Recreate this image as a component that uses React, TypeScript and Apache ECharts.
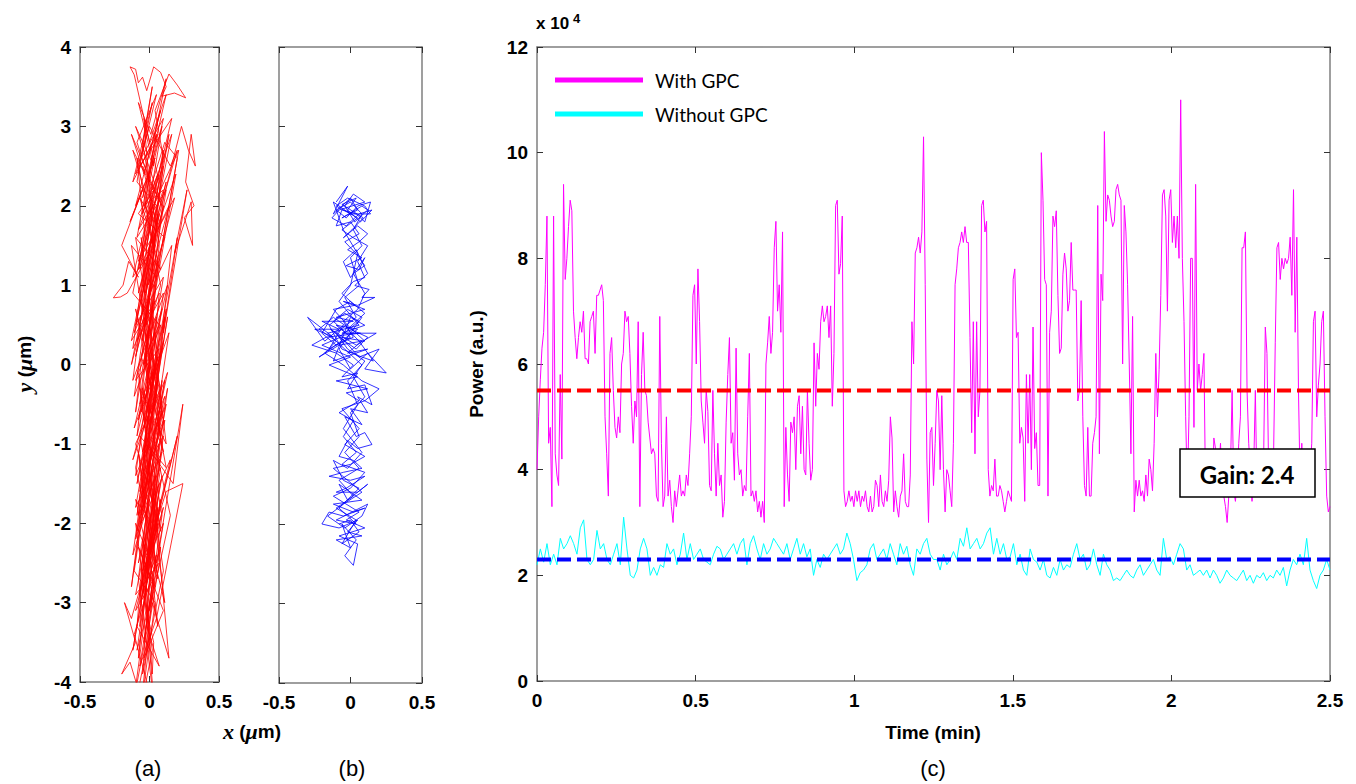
import React, { useEffect, useRef } from "react";
import * as echarts from "echarts";

// ---------- data ----------
// (a) trajectory x, y in µm (red)
const RED_XY: number[][] = [
  [-0.06,-4.3],[0.02,-2.9],[-0.09,-3.6],[0.06,-1.8],[-0.03,-2.7],[0.11,-0.7],[-0.07,-1.6],[0.08,0.5],[-0.11,-0.4],[0.03,1.3],
  [-0.05,0.3],[0.12,2.2],[-0.09,1.6],[0.05,2.9],[-0.12,2.3],[0.02,3.3],[-0.07,2.5],[0.16,3.1],[0.0,1.9],[0.21,2.7],
  [0.05,1.1],[-0.13,1.5],[0.03,-0.2],[-0.1,0.7],[0.1,-1.1],[-0.05,-0.3],[0.15,-1.9],[0.0,-3.1],[0.08,-2.3],[-0.11,-3.4],
  [0.04,-4.4],[-0.02,-3.2],[0.07,-1.5],[-0.08,-2.5],[0.12,-0.5],[-0.04,-1.2],[0.07,0.9],[-0.12,0.2],[0.02,2.0],[-0.08,1.2],
  [0.09,3.0],[-0.05,2.1],[0.12,3.4],[0.0,2.8],[-0.11,3.65],[-0.14,3.75],[-0.1,3.72],[-0.08,3.55],[-0.05,3.62],[-0.02,3.45],
  [0.03,3.75],[0.08,3.68],[0.12,3.5],[0.09,3.38],[0.18,3.42],[0.26,3.36],[0.2,3.52],[0.14,3.66],[0.04,3.2],[0.1,2.6],
  [-0.02,1.5],[0.14,2.9],[-0.06,0.8],[0.1,2.0],[-0.13,0.0],[0.05,1.2],[-0.09,-0.9],[0.11,0.6],[-0.04,-1.8],[0.13,-0.3],
  [-0.07,-2.9],[0.09,-1.4],[-0.12,-3.6],[0.02,-2.2],[-0.05,-3.9],[0.1,-2.6],[-0.03,-1.0],[0.17,-1.5],[0.24,-0.5],[0.05,-2.5],
  [-0.1,-1.3],[0.06,0.1],[-0.08,-0.7],[0.13,1.0],[-0.02,0.3],[0.19,2.4],[0.03,1.6],[0.23,3.0],[0.28,2.7],[0.33,2.5],
  [0.3,2.9],[0.26,2.3],[0.32,2.0],[0.25,1.85],[0.31,1.5],[0.3,2.05],[0.18,1.4],[0.27,2.2],[0.1,0.4],[0.2,1.6],
  [-0.04,-0.8],[0.12,0.7],[-0.09,-1.9],[0.06,-0.2],[-0.13,-2.8],[0.01,-1.1],[-0.07,-3.3],[0.08,-1.7],[-0.11,-4.2],[0.02,-3.0],
  [0.14,-3.7],[0.05,-2.0],[0.2,-0.9],[-0.01,-2.4],[0.15,-1.2],[-0.06,-2.0],[0.09,-0.6],[-0.1,-1.4],[0.05,0.6],[-0.12,-0.2],
  [0.0,1.4],[-0.16,0.9],[-0.21,0.85],[-0.26,0.84],[-0.19,1.0],[-0.15,1.3],[-0.08,1.1],[-0.2,1.5],[-0.05,2.2],[-0.14,1.8],
  [0.04,2.6],[-0.1,2.0],[0.08,3.2],[-0.04,2.4],[-0.13,2.9],[0.06,2.1],[-0.08,1.7],[0.1,2.5],[-0.03,0.9],[0.07,1.9],
  [-0.11,0.4],[0.03,1.0],[-0.07,-0.5],[0.09,0.2],[-0.12,-1.2],[0.04,-0.4],[-0.09,-2.1],[0.07,-1.0],[-0.05,-2.9],[0.1,-1.8],
  [-0.13,-3.2],[-0.18,-3.0],[-0.1,-3.5],[-0.2,-3.9],[-0.14,-3.75],[-0.08,-4.1],[0.0,-3.4],[-0.06,-2.6],[0.04,-1.4],[-0.1,-2.2],
  [0.11,-0.2],[-0.02,-1.5],[0.14,0.4],[-0.06,-0.6],[0.1,1.1],[-0.1,0.5],[0.05,1.7],[-0.08,0.9],[0.12,2.3],[-0.01,1.4],
  [0.16,2.9],[0.02,2.2],[-0.09,2.8],[0.05,3.4],[-0.06,2.6],[0.1,3.1],[0.0,2.3],[-0.12,2.7],[0.03,1.8],[-0.07,2.1],
  [0.08,1.2],[-0.1,1.6],[0.02,0.3],[-0.06,0.8],[0.09,-0.6],[-0.03,0.1],[0.12,-1.3],[-0.07,-0.9],[0.06,-2.1],[-0.1,-1.7],
  [0.04,-2.8],[-0.08,-2.3],[0.1,-3.1],[-0.04,-3.7],[0.07,-2.5],[-0.1,-2.9],[0.01,-1.9],[0.09,-1.1],[-0.05,-1.6],[0.13,-0.1],
  [-0.02,-0.8],[0.1,0.9],[-0.09,0.3],[0.04,1.5],[-0.12,1.1],[0.06,2.4],[-0.05,1.9],[0.11,2.8],[0.2,2.6],[0.07,1.3],
  [-0.04,0.0],[0.09,0.7],[-0.11,-0.8],[0.03,-0.1],[-0.06,-1.4],[0.1,-0.9],[-0.02,-2.4],[0.12,-1.6],[0.24,-1.5],[0.05,-3.2],
  [-0.07,-3.8],[0.03,-2.7],[-0.1,-3.1],[0.06,-2.0],[-0.03,-2.6],[0.08,-1.3],[-0.08,-1.9],[0.11,-0.4],[-0.05,-1.1],[0.07,0.2],
  [-0.1,-0.2],[0.04,0.8],[-0.13,0.3],[0.02,1.6],[-0.08,1.3],[0.1,2.2],[-0.04,2.0],[0.06,2.9],[-0.1,2.4],[0.0,3.0],
  [0.15,2.5],[0.2,2.7],[0.1,2.1],[0.03,1.1],[-0.06,0.6],[0.08,-0.3],[-0.1,-1.0],[0.05,-1.9],[-0.06,-2.8],[0.03,-3.5],
  [0.02,-3.9],[-0.05,-2.2],[0.06,-3.3],[-0.08,-1.1],[0.04,-2.6],[-0.03,0.4],[0.08,-0.9],[-0.06,1.6],[0.05,0.2],[-0.09,2.6],
  [0.03,1.5],[-0.04,3.1],[0.07,2.3],[-0.07,1.2],[0.1,2.7],[-0.02,0.5],[0.06,1.9],[-0.1,-0.6],[0.02,0.7],[-0.06,-1.9],
  [0.09,-0.2],[-0.03,-2.9],[0.05,-1.6],[-0.08,-3.7],[0.01,-2.3],[0.11,-3.0],[-0.02,-1.2],[0.08,-2.1],[-0.07,-0.3],[0.12,-1.0],
  [0.0,0.8],[-0.1,0.1],[0.06,1.3],[-0.04,-0.7],[0.1,0.3],[-0.09,-1.5],[0.03,-0.5],[-0.12,-2.4],[0.0,-1.7],[-0.07,-3.0],
  [0.05,-2.4],[-0.04,-3.5],[0.09,-1.9],[-0.01,-0.9],[0.13,0.6],[0.04,-0.4],[0.16,1.5],[0.0,0.9],[0.18,2.1],[0.06,1.7],
  [-0.05,2.5],[0.09,2.0],[-0.1,3.0],[0.03,2.5],[-0.08,3.3],[0.01,2.9],[0.12,3.6],[0.05,3.0],[-0.03,2.0],[0.08,1.0],
  [-0.06,0.1],[0.1,-0.7],[-0.04,-1.4],[0.06,-2.7],[-0.1,-2.0],[0.02,-3.6],[-0.06,-4.3],[0.04,-3.0],[-0.11,-2.6],[0.0,-1.3],
  [-0.08,-0.1],[0.07,0.5],[-0.12,0.9],[0.03,2.2],[-0.08,1.9],[0.11,1.6],[-0.01,1.0],[0.14,2.0],[-0.05,1.3],[0.02,-0.6],
  [-0.1,-1.8],[0.07,-1.2],[-0.05,-2.6],[0.1,-2.0],[-0.02,-3.3],[0.07,-3.8],[-0.09,-3.3],[-0.03,-2.0],[0.09,-0.5],[-0.06,0.9],
  [0.05,2.0],[-0.09,2.3],[0.02,3.5],[-0.05,2.8],[0.07,1.5],[-0.03,0.0],[0.04,-1.0],[-0.08,-2.7],[0.0,-3.8],[0.05,-4.5]
];

// (b) trajectory x, y in µm (blue)
const BLUE_XY: number[][] = [
  [-0.1,2.05],[-0.02,2.25],[-0.12,1.9],[0.0,2.1],[0.05,1.95],[-0.06,1.85],[0.08,2.0],[0.12,1.95],[0.03,1.8],[-0.04,2.0],
  [0.02,2.15],[0.1,2.05],[-0.08,1.95],[-0.13,1.85],[-0.03,1.75],[0.06,1.9],[0.15,1.95],[0.07,1.8],[-0.02,1.95],[0.04,2.1],
  [-0.06,2.02],[0.09,1.85],[0.01,1.7],[-0.05,1.6],[0.05,1.75],[0.12,1.65],[0.06,1.55],[-0.02,1.45],[0.08,1.35],[-0.03,1.25],
  [0.06,1.2],[0.1,1.35],[0.0,1.1],[-0.05,1.3],[0.04,1.45],[0.12,1.15],[0.03,1.0],[0.13,0.95],[0.08,0.85],[0.17,0.85],
  [0.05,0.75],[-0.05,0.8],[0.1,0.7],[-0.1,0.6],[0.02,0.55],[-0.2,0.55],[-0.08,0.45],[-0.25,0.45],[-0.12,0.35],[-0.3,0.6],
  [-0.18,0.3],[-0.05,0.5],[-0.15,0.2],[0.0,0.35],[-0.1,0.5],[0.05,0.45],[-0.22,0.1],[-0.08,0.25],[0.08,0.3],[-0.02,0.15],
  [0.12,0.2],[-0.12,0.05],[0.0,0.6],[0.1,0.5],[-0.06,0.4],[0.18,0.4],[0.04,0.25],[-0.14,0.45],[-0.04,0.3],[0.06,0.1],
  [0.2,0.2],[0.1,-0.05],[0.25,-0.1],[0.12,0.15],[0.0,-0.05],[-0.08,0.2],[0.08,0.6],[-0.02,0.7],[-0.12,0.55],[-0.03,0.4],
  [0.07,0.4],[-0.17,0.35],[-0.27,0.25],[-0.1,0.15],[0.02,0.0],[-0.06,-0.15],[0.05,-0.1],[-0.02,-0.3],[0.1,-0.25],[0.15,-0.5],
  [0.05,-0.4],[0.12,-0.6],[0.0,-0.55],[0.08,-0.75],[-0.04,-0.65],[0.04,-0.9],[0.1,-0.85],[0.15,-1.0],[0.05,-1.05],[-0.02,-0.95],
  [-0.08,-1.15],[0.02,-1.2],[0.08,-1.3],[-0.05,-1.35],[-0.15,-1.4],[0.0,-1.45],[0.1,-1.4],[-0.03,-1.55],[-0.1,-1.6],[0.05,-1.6],
  [0.12,-1.5],[-0.02,-1.7],[-0.08,-1.5],[0.08,-1.7],[-0.12,-1.75],[0.02,-1.85],[0.1,-1.8],[-0.05,-1.9],[-0.15,-1.85],[-0.2,-2.0],
  [-0.08,-2.05],[0.05,-1.95],[-0.02,-2.1],[0.08,-2.15],[-0.1,-2.2],[0.0,-2.3],[-0.06,-2.0],[0.04,-2.2],[-0.04,-2.4],[0.02,-2.52],
  [0.05,-2.25],[-0.08,-2.15],[0.1,-2.05],[-0.03,-1.95],[0.06,-1.85],[-0.12,-1.65],[0.0,-1.55],[0.1,-1.35],[-0.06,-1.25],[0.04,-1.1],
  [-0.05,-0.9],[0.02,-0.7],[-0.08,-0.6],[0.06,-0.45],[-0.03,-0.35],[0.12,-0.3],[-0.1,-0.2],[0.05,-0.15],[-0.15,0.0],[0.0,0.1],
  [-0.2,0.25],[-0.07,0.35],[0.1,0.3],[-0.02,0.5],[-0.12,0.7],[0.03,0.75],[-0.06,0.9],[0.02,1.05],[0.1,1.1],[0.05,1.3],
  [0.12,1.5],[0.02,1.6],[-0.06,1.7],[0.05,1.85],[-0.1,2.0],[-0.02,2.1],[0.1,2.0],[0.14,1.9],[0.0,1.9],[-0.12,2.05],
  [-0.05,1.7],[0.05,1.4],[0.0,1.0],[-0.08,0.8],[0.06,0.5],[-0.16,0.4],[-0.04,0.2],[0.08,0.0],[-0.02,-0.2],[0.05,-0.5],
  [-0.05,-0.8],[0.08,-1.1],[-0.02,-1.3],[-0.12,-1.2],[-0.05,-1.45],[0.06,-1.55],[-0.08,-1.8],[0.04,-2.0],[-0.1,-1.95],[0.12,-1.75],
  [0.08,-1.9],[-0.04,-2.05],[-0.16,-1.9],[-0.05,-1.75],[0.08,-1.6],[-0.02,-1.45],[-0.12,-1.3],[0.0,-1.25],[0.1,-1.15],[-0.04,-1.0],
  [0.06,-0.8],[-0.06,-0.55],[0.1,-0.45],[0.2,-0.3],[0.08,-0.2],[-0.05,0.0],[-0.18,0.15],[-0.1,0.3],[-0.22,0.45],[-0.12,0.6],
  [0.0,0.45],[0.12,0.35],[0.04,0.2],[-0.08,0.35],[0.06,0.55],[-0.04,0.65],[-0.15,0.5],[-0.06,0.2],[0.08,0.1],[0.16,0.05],
  [0.06,0.3],[-0.02,0.45],[0.1,0.65],[0.0,0.8],[-0.1,0.7],[-0.2,0.4],[-0.1,0.25],[0.02,0.35],[-0.05,0.55],[0.05,0.7],
  [0.1,0.9],[0.02,1.15],[0.1,1.25],[0.04,1.4],[-0.04,1.55],[0.06,1.65],[0.0,1.8],[-0.1,1.75],[-0.06,1.95],[0.04,1.9],
  [0.1,1.8],[0.14,2.05],[0.05,2.0],[-0.03,1.85],[-0.1,1.95],[0.0,2.05],[0.08,1.9],[0.02,1.7],[0.08,1.5],[0.0,1.35],
  [0.06,1.0],[-0.04,0.85],[0.04,0.6],[-0.1,0.4],[-0.02,0.2],[0.1,0.05],[0.02,-0.15],[0.1,-0.4],[0.0,-0.6],[0.06,-0.9],
  [-0.04,-1.1],[0.06,-1.3],[-0.08,-1.45],[0.02,-1.65],[-0.1,-1.8],[0.04,-1.95],[-0.06,-2.25],[0.06,-2.1],[0.0,-1.95],[-0.08,-2.0]
];

// (c) power (x 10^4 a.u.), evenly sampled over 0 .. 2.5 min
const WITH_GPC: number[] = [
  4.0,5.0,5.7,6.3,6.6,7.5,8.8,4.5,4.8,3.3, 8.8,4.3,3.9,3.7,5.8,4.2,9.4,7.6,8.0,8.6,
  9.1,8.9,7.0,6.5,6.1,6.5,6.8,6.6,7.0,6.1, 6.1,6.0,6.8,6.9,7.0,6.2,7.3,7.3,7.4,7.5,
  7.2,5.0,4.3,3.5,6.2,6.5,5.5,4.8,4.6,5.0, 4.7,6.0,6.2,7.0,6.8,6.9,6.2,5.2,4.5,5.3,
  5.0,6.8,3.3,5.8,6.6,5.5,5.4,4.9,4.6,4.3, 4.4,4.3,3.5,3.4,6.9,4.5,3.3,3.5,5.0,3.5,
  3.8,3.3,3.0,3.6,3.3,3.6,3.9,3.5,3.6,3.5, 3.9,3.7,4.3,5.0,7.3,7.5,6.0,7.8,6.8,5.3,
  4.9,4.5,5.5,5.1,3.7,3.6,5.5,4.3,3.5,4.5, 3.7,3.9,3.1,3.4,4.9,5.8,6.5,4.5,4.7,3.8,
  6.3,4.3,3.9,4.0,3.5,3.7,3.6,5.0,6.2,3.5, 3.6,3.4,3.6,3.2,3.4,3.1,3.4,3.0,6.0,6.4,
  6.9,6.2,6.6,8.2,8.7,7.0,7.5,6.6,8.5,3.3, 4.8,3.9,3.4,4.9,4.7,5.0,4.0,5.2,5.4,4.3,
  5.2,4.0,3.9,5.5,4.5,3.8,4.0,6.4,5.2,6.2, 5.9,6.8,7.1,6.8,6.9,7.1,6.5,7.1,5.2,6.2,
  9.0,9.1,7.7,7.9,8.8,3.6,3.3,3.4,3.6,3.4, 3.5,3.3,3.6,3.4,3.6,3.3,3.5,3.4,3.6,3.3,
  3.2,3.5,3.2,3.3,3.8,3.7,3.3,3.9,3.4,3.3, 3.6,3.4,3.8,5.0,4.6,3.2,3.6,3.3,3.1,3.5,
  3.6,4.3,3.4,3.3,3.3,3.9,6.8,6.0,8.1,8.2, 8.4,8.1,8.5,10.3,7.5,4.2,3.0,4.7,4.8,3.7,
  4.5,5.5,5.3,4.0,5.4,4.0,3.2,4.0,3.9,3.6, 3.3,4.5,7.5,7.8,8.2,8.3,8.5,8.3,8.6,8.3,
  8.3,6.5,4.7,6.8,4.3,6.8,5.0,5.5,9.0,9.1, 8.5,8.7,4.0,3.5,3.7,3.6,4.2,3.5,3.5,3.7,
  3.6,3.4,3.2,3.4,3.6,3.5,3.4,7.6,7.8,6.5, 6.6,4.5,4.8,4.6,3.4,5.8,4.5,5.8,4.0,6.7,
  4.4,4.7,3.7,3.7,10.0,9.1,7.6,7.5,3.5,6.6, 7.0,8.8,8.6,8.9,7.3,6.2,6.3,7.7,8.1,7.8,
  7.0,
  7.2,8.3,7.4,7.4,7.4,5.3,5.5,7.2,5.0,3.7, 3.5,4.8,3.5,3.5,4.5,4.7,5.0,9.0,4.3,7.7,
  7.2,10.4,8.7,9.2,9.1,8.8,8.6,8.7,9.3,9.4, 9.2,9.1,6.0,9.0,8.5,7.5,6.0,4.3,6.9,3.2,
  3.8,3.5,3.8,3.5,3.6,3.4,3.9,3.5,4.2,4.0, 3.6,4.5,6.2,5.0,5.9,7.3,9.2,9.3,8.8,7.0,
  9.1,9.3,8.3,8.8,8.2,8.8,8.0,11.0,8.0,6.8, 5.0,3.6,5.0,8.0,8.0,4.8,9.4,5.5,6.0,5.5,
  5.8,6.2,3.5,3.8,3.6,3.7,3.5,4.6,4.4,3.6, 4.0,4.5,3.6,3.5,3.3,3.0,3.5,4.0,5.5,3.6,
  3.4,3.8,4.5,5.0,8.2,8.2,8.5,5.5,4.5,4.0, 3.4,4.0,5.5,3.5,4.3,4.0,3.7,4.2,6.7,6.2,
  4.0,3.5,4.3,4.3,6.4,8.2,8.3,7.6,8.0,7.8, 8.0,7.9,8.0,8.4,7.3,9.3,6.6,8.4,5.5,3.7,
  4.5,3.5,3.8,4.0,3.5,4.0,4.5,6.8,7.0,5.0, 5.6,6.0,6.8,7.0,5.0,3.5,3.2,3.3
];

const WITHOUT_GPC: number[] = [
  2.2,2.5,2.25,2.6,2.2,2.4,2.2,2.7,2.5,2.6, 2.75,2.6,2.4,2.9,3.05,2.3,2.2,2.3,2.85,2.5,
  2.6,2.3,2.2,2.4,2.6,2.2,3.1,2.5,2.0,1.95, 2.1,2.5,2.7,2.5,2.0,2.15,2.0,2.2,2.15,2.6,
  2.4,2.5,2.2,2.4,2.8,2.3,2.6,2.3,2.4,2.5, 2.3,2.25,2.2,2.4,2.55,2.5,2.3,2.4,2.5,2.6,
  2.4,2.6,2.7,2.2,2.6,2.75,2.5,2.3,2.6,2.4, 2.5,2.7,2.6,2.5,2.4,2.6,2.3,2.5,2.7,2.4,
  2.6,2.35,2.5,2.0,2.3,2.15,2.4,2.3,2.4,2.5, 2.6,2.4,2.5,2.8,2.6,2.3,1.9,2.05,2.1,2.2,
  2.5,2.6,2.3,2.4,2.5,2.3,2.6,2.4,2.2,2.6, 2.4,2.55,2.2,2.0,2.5,2.4,2.6,2.7,2.4,2.3,
  2.3,2.1,2.4,2.2,2.3,2.45,2.3,2.7,2.55,2.9, 2.5,2.6,2.7,2.5,2.6,2.8,2.9,2.4,2.7,2.4,
  2.6,2.3,2.35,2.6,2.2,2.4,2.1,2.0,2.5,2.3, 2.25,2.1,2.3,2.0,1.95,2.15,2.0,2.3,2.1,2.2,
  2.15,2.4,2.6,2.3,2.4,2.1,2.2,2.5,2.2,2.0, 2.4,2.2,2.1,1.9,1.95,1.9,2.0,2.1,2.0,1.95,
  2.1,2.2,2.0,2.1,2.2,2.3,2.1,2.0,2.7,2.3, 2.35,2.2,2.4,2.6,2.5,2.1,2.2,2.0,2.05,2.1,
  2.0,2.1,1.95,2.1,2.0,1.85,1.95,2.1,2.0,1.95, 1.9,2.0,2.1,1.9,2.0,1.85,2.0,1.95,2.05,1.9,
  2.0,1.95,2.1,2.0,2.15,1.8,2.1,2.3,2.2,2.4, 2.2,2.7,2.1,1.9,1.75,2.0,2.1,2.3,2.1
];

const DURATION_MIN = 2.5;
const MEAN_WITH = 5.5;
const MEAN_WITHOUT = 2.3;
const GAIN_TEXT = "Gain: 2.4";
const SERIES_NAMES = ["With GPC", "Without GPC"];

// ---------- chart ----------
const AX = "#7f7f7f";
const LBL = {
  fontFamily: "'Liberation Sans', Arial, sans-serif",
  fontWeight: "bold" as const,
  fontSize: 19,
  color: "#000",
};

function axis(kind: "x" | "y", grid: number, min: number, max: number, interval: number, position: string, labels: boolean) {
  return {
    type: "value",
    gridIndex: grid,
    min,
    max,
    interval,
    position,
    axisLine: { show: true, onZero: false, lineStyle: { color: AX, width: 1.5 } },
    axisTick: { show: true, inside: true, length: 6, lineStyle: { color: "#333", width: 1 } },
    axisLabel: { show: labels, margin: kind === "x" ? 10 : 9, ...LBL },
    splitLine: { show: false },
  };
}

function sampled(values: number[]) {
  const n = values.length;
  return values.map((v, i) => [(i * DURATION_MIN) / (n - 1), v]);
}

export default function App() {
  const ref = useRef<HTMLDivElement>(null);
  useEffect(() => {
    if (!ref.current) return;
    const chart = echarts.init(ref.current, null, { renderer: "svg" });
    const sans = "'Liberation Sans', Arial, sans-serif";
    const serif = "'Liberation Serif', 'Times New Roman', serif";
    const calibri = "Lato, 'Open Sans', sans-serif";
    chart.setOption({
      animation: false,
      backgroundColor: "#fff",
      grid: [
        { left: 80, top: 47, width: 139, height: 635 },
        { left: 279, top: 47, width: 143, height: 636 },
        { left: 537, top: 47, width: 793, height: 634 },
      ],
      xAxis: [
        axis("x", 0, -0.5, 0.5, 0.5, "bottom", true),
        axis("x", 0, -0.5, 0.5, 0.5, "top", false),
        axis("x", 1, -0.5, 0.5, 0.5, "bottom", true),
        axis("x", 1, -0.5, 0.5, 0.5, "top", false),
        axis("x", 2, 0, 2.5, 0.5, "bottom", true),
        axis("x", 2, 0, 2.5, 0.5, "top", false),
      ],
      yAxis: [
        axis("y", 0, -4, 4, 1, "left", true),
        axis("y", 0, -4, 4, 1, "right", false),
        axis("y", 1, -4, 4, 1, "left", false),
        axis("y", 1, -4, 4, 1, "right", false),
        axis("y", 2, 0, 12, 2, "left", true),
        axis("y", 2, 0, 12, 2, "right", false),
      ],
      legend: {
        data: SERIES_NAMES,
        orient: "vertical",
        left: 555,
        top: 69,
        padding: 0,
        icon: "rect",
        itemWidth: 88,
        itemHeight: 5,
        itemGap: 12,
        selectedMode: false,
        textStyle: { fontFamily: calibri, fontSize: 19, color: "#000", lineHeight: 22, padding: [0, 0, 0, 7] },
      },
      series: [
        {
          type: "line", name: "traj-a", xAxisIndex: 0, yAxisIndex: 0, data: RED_XY,
          symbol: "none", clip: true, lineStyle: { color: "#ff0000", width: 0.8 }, silent: true,
        },
        {
          type: "line", name: "traj-b", xAxisIndex: 2, yAxisIndex: 2, data: BLUE_XY,
          symbol: "none", clip: true, lineStyle: { color: "#0000ff", width: 0.8 }, silent: true,
        },
        {
          type: "line", name: SERIES_NAMES[0], xAxisIndex: 4, yAxisIndex: 4, data: sampled(WITH_GPC),
          symbol: "none", clip: true, itemStyle: { color: "#ff00ff" }, lineStyle: { color: "#ff00ff", width: 1 }, silent: true,
        },
        {
          type: "line", name: SERIES_NAMES[1], xAxisIndex: 4, yAxisIndex: 4, data: sampled(WITHOUT_GPC),
          symbol: "none", clip: true, itemStyle: { color: "#00ffff" }, lineStyle: { color: "#00ffff", width: 1 }, silent: true,
        },
        {
          type: "line", name: "mean-with", xAxisIndex: 4, yAxisIndex: 4,
          data: [[0, MEAN_WITH], [DURATION_MIN, MEAN_WITH]], symbol: "none", z: 5,
          lineStyle: { color: "#ff0000", width: 4, type: [14, 6] }, silent: true,
        },
        {
          type: "line", name: "mean-without", xAxisIndex: 4, yAxisIndex: 4,
          data: [[0, MEAN_WITHOUT], [DURATION_MIN, MEAN_WITHOUT]], symbol: "none", z: 5,
          lineStyle: { color: "#0000ff", width: 4, type: [14, 6] }, silent: true,
        },
      ],
      graphic: [
        {
          type: "rect", z: 100, shape: { x: 1180, y: 449, width: 135, height: 48 },
          style: { fill: "#fff", stroke: "#000", lineWidth: 1.5 },
        },
        {
          type: "text", z: 101, x: 1247, y: 474,
          style: { text: GAIN_TEXT, fontFamily: calibri, fontWeight: "bold", fontSize: 24, fill: "#000", align: "center", verticalAlign: "middle" },
        },
        {
          type: "text", x: 536, y: 23,
          style: {
            text: "{a|x 10}{b|4}", verticalAlign: "middle",
            rich: {
              a: { fontFamily: sans, fontWeight: "bold", fontSize: 17, fill: "#000" },
              b: { fontFamily: sans, fontWeight: "bold", fontSize: 13, fill: "#000", padding: [0, 0, 10, 4] },
            },
          },
        },
        {
          type: "text", x: 24, y: 364, rotation: Math.PI / 2,
          style: {
            text: "{i|y}{n| (}{i|μ}{n|m)}", align: "center", verticalAlign: "middle",
            rich: {
              i: { fontFamily: serif, fontStyle: "italic", fontWeight: "bold", fontSize: 22, fill: "#000" },
              n: { fontFamily: sans, fontWeight: "bold", fontSize: 19, fill: "#000" },
            },
          },
        },
        {
          type: "text", x: 252, y: 731,
          style: {
            text: "{i|x}{n| (}{i|μ}{n|m)}", align: "center", verticalAlign: "middle",
            rich: {
              i: { fontFamily: serif, fontStyle: "italic", fontWeight: "bold", fontSize: 22, fill: "#000" },
              n: { fontFamily: sans, fontWeight: "bold", fontSize: 19, fill: "#000" },
            },
          },
        },
        {
          type: "text", x: 476, y: 364, rotation: Math.PI / 2,
          style: { text: "Power (a.u.)", fontFamily: sans, fontWeight: "bold", fontSize: 19, fill: "#000", align: "center", verticalAlign: "middle" },
        },
        {
          type: "text", x: 933, y: 732,
          style: { text: "Time (min)", fontFamily: sans, fontWeight: "bold", fontSize: 19, fill: "#000", align: "center", verticalAlign: "middle" },
        },
        { type: "text", x: 148, y: 768, style: { text: "(a)", fontFamily: sans, fontSize: 22, fill: "#000", align: "center", verticalAlign: "middle" } },
        { type: "text", x: 352, y: 768, style: { text: "(b)", fontFamily: sans, fontSize: 22, fill: "#000", align: "center", verticalAlign: "middle" } },
        { type: "text", x: 933, y: 768, style: { text: "(c)", fontFamily: sans, fontSize: 22, fill: "#000", align: "center", verticalAlign: "middle" } },
      ],
    });
    return () => chart.dispose();
  }, []);
  return <div ref={ref} style={{ width: 1356, height: 784, position: "absolute", left: 0, top: 0 }} />;
}
